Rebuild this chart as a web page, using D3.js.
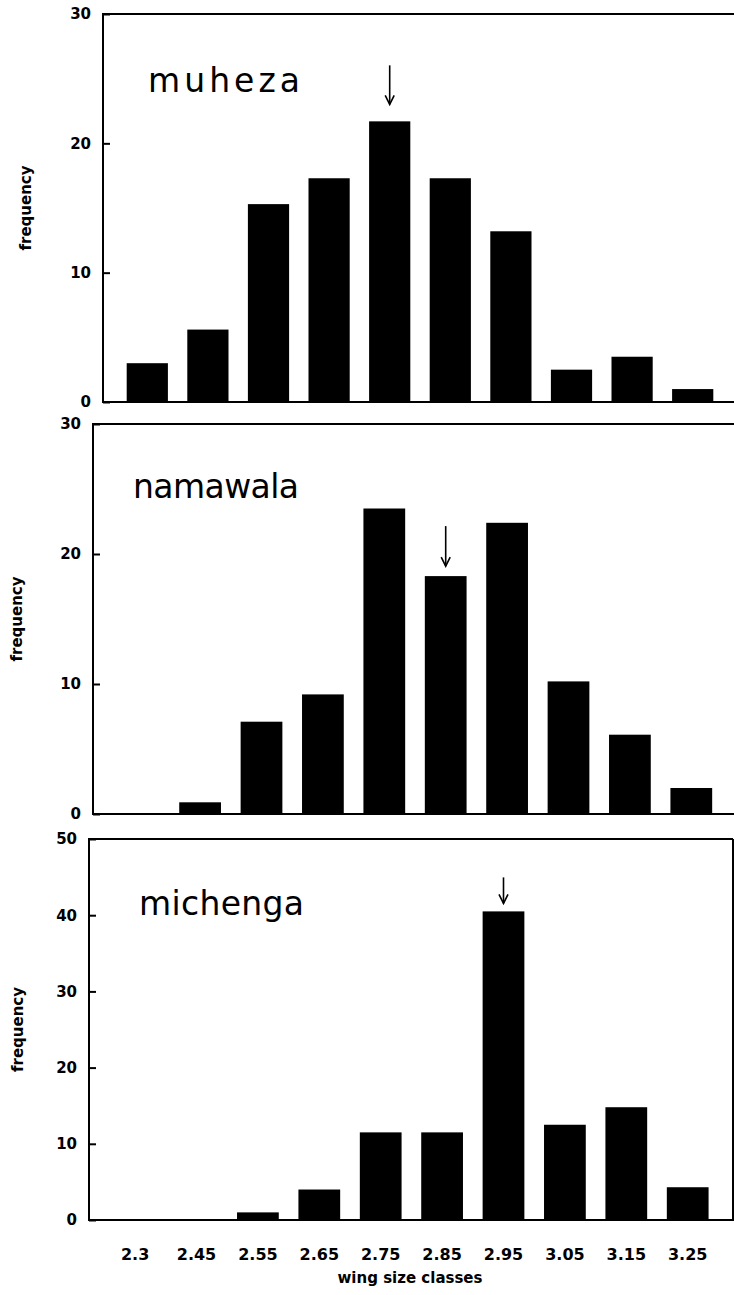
<!DOCTYPE html>
<html>
<head>
<meta charset="utf-8">
<script src="https://cdn.jsdelivr.net/npm/d3@7"></script>
<style>
body{margin:0;background:#fff}
text{fill:#000}
</style>
</head>
<body>
<svg id="chart" width="734" height="1295"></svg>
<script>
// wing size classes (x categories)
var classes = ['2.3','2.45','2.55','2.65','2.75','2.85','2.95','3.05','3.15','3.25'];
var sites = ['muheza','namawala','michenga'];
// frequency per class, one array per site
var muheza   = [3.0, 5.6, 15.3, 17.3, 21.7, 17.3, 13.2, 2.5, 3.5, 1.0];
var namawala = [0, 0.9, 7.1, 9.2, 23.5, 18.3, 22.4, 10.2, 6.1, 2.0];
var michenga = [0, 0, 1.0, 4.0, 11.5, 11.5, 40.5, 12.5, 14.8, 4.3];
var yMax   = [30, 30, 50];
var yTicks = [[0,10,20,30],[0,10,20,30],[0,10,20,30,40,50]];
// class marked by the arrow in each panel
var arrowAt = ['2.75','2.85','2.95'];

var series = [muheza, namawala, michenga];

// panel placement (pixels)
var layout = [
	{left:103, top:14,  bottom:402,  band:[117,723],     title:[148,92],  titleLen:152, ylab:31, gap:17, arrowLen:39, rightEdge:false},
	{left:93,  top:424, bottom:814,  band:[108,722],     title:[133,498], titleLen:166, ylab:22, gap:10, arrowLen:40, rightEdge:false},
	{left:89,  top:839, bottom:1220, band:[104.4,718.4], title:[139,915], titleLen:165, ylab:23, gap:8,  arrowLen:26, rightEdge:true}
];

var svg = d3.select('#chart');

sites.forEach(function(site, i){
	var L = layout[i],
		vals = series[i],
		g = svg.append('g').attr('class','panel '+site);

	var x = d3.scaleBand().domain(classes).range(L.band).paddingInner(0.32).paddingOuter(0.16);
	var y = d3.scaleLinear().domain([0, yMax[i]]).range([L.bottom, L.top]);

	// bars
	g.selectAll('rect.bar').data(classes).enter().append('rect')
		.attr('class','bar')
		.attr('x', function(d){ return x(d); })
		.attr('width', x.bandwidth())
		.attr('y', function(d,j){ return y(vals[j]); })
		.attr('height', function(d,j){ return y(0) - y(vals[j]); })
		.attr('fill','#000');

	// frame: top, left, bottom (right side runs off the page)
	var right = L.rightEdge ? 733 : 740;
	g.append('path')
		.attr('d', 'M'+right+','+L.top+'H'+L.left+'V'+L.bottom+'H'+right+(L.rightEdge ? 'V'+L.top : ''))
		.attr('fill','none').attr('stroke','#000').attr('stroke-width',2);

	// y axis, ticks pointing inward
	var yAxis = d3.axisLeft(y).tickValues(yTicks[i]).tickSizeInner(-7).tickSizeOuter(0).tickPadding(12);
	var ya = g.append('g').attr('transform','translate('+L.left+',0)').call(yAxis);
	ya.select('.domain').remove();
	ya.selectAll('line').attr('stroke','#000').attr('stroke-width',2);
	ya.selectAll('text')
		.attr('font-family','DejaVu Sans').attr('font-weight','bold').attr('font-size',15);

	g.append('text')
		.attr('transform','translate('+L.ylab+','+((L.top+L.bottom)/2)+') rotate(-90)')
		.attr('text-anchor','middle')
		.attr('font-family','DejaVu Sans').attr('font-weight','bold').attr('font-size',15)
		.text('frequency');

	// site name
	g.append('text')
		.attr('x', L.title[0]).attr('y', L.title[1])
		.attr('font-family','DejaVu Sans').attr('font-size',33)
		.attr('textLength', L.titleLen).attr('lengthAdjust','spacing')
		.text(site);

	// arrow above the marked class
	var k = classes.indexOf(arrowAt[i]),
		cx = x(arrowAt[i]) + x.bandwidth()/2,
		tip = y(vals[k]) - L.gap;
	g.append('line')
		.attr('x1',cx).attr('x2',cx).attr('y1',tip - L.arrowLen).attr('y2',tip)
		.attr('stroke','#000').attr('stroke-width',1.6);
	g.append('path')
		.attr('d','M'+(cx-4.5)+','+(tip-9)+'L'+cx+','+tip+'L'+(cx+4.5)+','+(tip-9))
		.attr('fill','none').attr('stroke','#000').attr('stroke-width',1.6);

	// x labels only under the last panel
	if (i === sites.length - 1) {
		var xAxis = d3.axisBottom(x).tickSize(0).tickPadding(29);
		var xa = g.append('g').attr('transform','translate(0,'+L.bottom+')').call(xAxis);
		xa.select('.domain').remove();
		xa.selectAll('text')
			.attr('font-family','DejaVu Sans').attr('font-weight','bold').attr('font-size',16);
		g.append('text')
			.attr('x', 410).attr('y', 1283)
			.attr('text-anchor','middle')
			.attr('font-family','DejaVu Sans').attr('font-weight','bold').attr('font-size',15)
			.text('wing size classes');
	}
});
</script>
</body>
</html>
